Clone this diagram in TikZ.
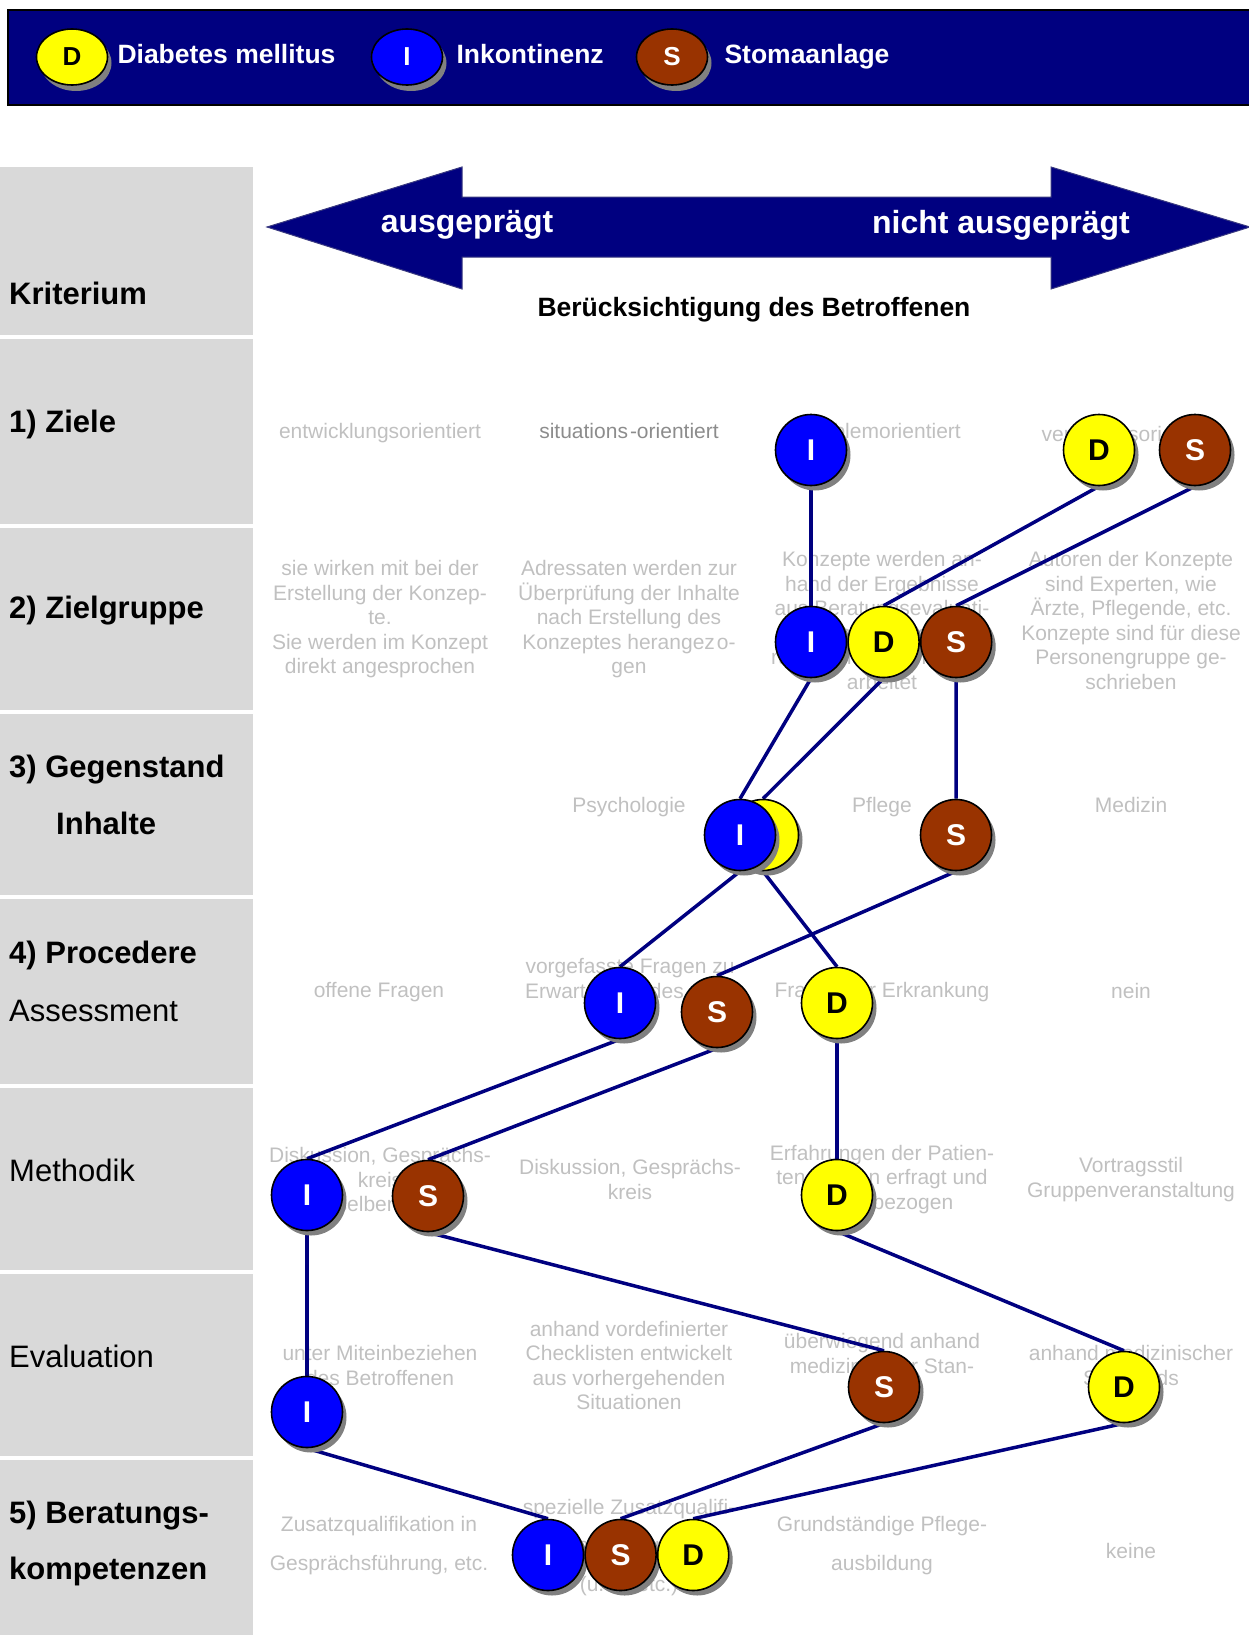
\documentclass[tikz,border=0pt]{standalone}
\usepackage{fontspec}
\setmainfont{Liberation Sans}
\usetikzlibrary{positioning, shapes.geometric, shadows}
\definecolor{navy}{RGB}{0,0,128}
\definecolor{diabyellow}{RGB}{255,255,0}
\definecolor{inkoblue}{RGB}{0,0,255}
\definecolor{stomabrown}{RGB}{153,51,0}
\definecolor{colgray}{RGB}{217,217,217}
\definecolor{optgray}{RGB}{192,192,192}
\definecolor{optdark}{RGB}{140,140,140}
\pgfdeclarelayer{back}
\pgfdeclarelayer{lines}
\pgfsetlayers{back,lines,main}
\tikzset{
  disc/.style={circle, draw=black, line width=1.6pt, minimum size=71pt, inner sep=0pt,
    font=\fontsize{30}{30}\selectfont\bfseries,
    drop shadow={shadow xshift=4pt, shadow yshift=-5pt, fill=black!50, opacity=1}},
  diab/.style={disc, fill=diabyellow, text=black},
  inko/.style={disc, fill=inkoblue, text=white},
  stoma/.style={disc, fill=stomabrown, text=white},
  legdisc/.style={ellipse, draw=black, line width=1.6pt, minimum width=71pt, minimum height=56pt,
    inner sep=0pt, font=\fontsize{26}{26}\selectfont\bfseries,
    drop shadow={shadow xshift=4pt, shadow yshift=-6pt, fill=black!50, opacity=1}},
  legtext/.style={text=white, inner sep=0pt, text height=19pt, text depth=6pt,
    font=\fontsize{26.5}{26.5}\selectfont\bfseries},
  opt/.style={text=optgray, align=center, inner sep=0pt, yshift=-2.5pt, font=\fontsize{21}{24.5}\selectfont},
  optwide/.style={opt, font=\fontsize{21}{38.5}\selectfont},
  krit/.style={anchor=west, inner sep=0pt, font=\fontsize{31}{31}\selectfont\bfseries},
  kritplain/.style={krit, font=\fontsize{31}{31}\selectfont},
  link/.style={navy, line width=3.5pt}
}

\begin{document}
\begin{tikzpicture}[x=1pt, y=-1pt]
		\useasboundingbox (0,0) rectangle (1248,1635);
		% Legend bar
		\draw[fill=navy, draw=black, line width=1.5pt] (8,10) rectangle (1260,105);
		\node[legdisc, fill=diabyellow, text=black] (legD) at (72,57) {D};
		\node[legtext, right=9pt of legD, yshift=-0.5pt] (legDtxt) {Diabetes mellitus};
		\node[legdisc, fill=inkoblue, text=white] (legI) at (407,57) {I};
		\node[legtext, right=13pt of legI, yshift=-0.5pt] (legItxt) {Inkontinenz};
		\node[legdisc, fill=stomabrown, text=white] (legS) at (672,57) {S};
		\node[legtext, right=16pt of legS, yshift=-0.5pt] (legStxt) {Stomaanlage};
		% Double arrow
		\draw[fill=navy, draw=navy!55!gray, line width=1pt]
			(267,227) -- (462,167) -- (462,197) -- (1051,197) -- (1051,167) -- (1250,227)
			-- (1051,289) -- (1051,257) -- (462,257) -- (462,289) -- cycle;
		\node[text=white, font=\fontsize{32}{32}\selectfont\bfseries] (pos) at (467,225) {ausgeprägt};
		\node[text=white, font=\fontsize{32}{32}\selectfont\bfseries] (neg) at (1001,225) {nicht ausgeprägt};
		\node[font=\fontsize{26.5}{26.5}\selectfont\bfseries] (axis) at (754,310) {Berücksichtigung des Betroffenen};
		\begin{pgfonlayer}{back}
			% Criteria column
			\foreach \t/\b in {167/335, 339/524, 528/710, 714/895, 899/1084, 1088/1270, 1274/1456, 1460/1640}
				\fill[colgray] (0,\t) rectangle (253,\b);
			\node[krit] (k0) at (9,293) {Kriterium};
			\node[krit] (k1) at (9,424) {1) Ziele};
			\node[krit] (k2) at (9,611) {2) Zielgruppe};
			\node[krit] (k3) at (9,770) {3) Gegenstand};
			\node[krit] (k3b) at (56,823) {Inhalte};
			\node[krit] (k4) at (9,955) {4) Procedere};
			\node[kritplain] (k4b) at (9,1011) {Assessment};
			\node[kritplain] (k5) at (9,1170) {Methodik};
			\node[kritplain] (k6) at (9,1356) {Evaluation};
			\node[krit] (k7) at (9,1516) {5) Beratungs-};
			\node[krit] (k7b) at (9,1571) {kompetenzen};
			% Options per criterion
			\node[opt] (t11) at (380,431) {entwicklungsorientiert};
			\node[opt, text=optdark] (t12) at (629,428) {situations\kern2pt-orientiert};
			\node[opt] (t13) at (882,431) {problemorientiert};
			\node[opt] (t14) at (1131,431) {verhaltensorientiert};
			\node[opt] (t21) at (380,617) {sie wirken mit bei der\\Erstellung der Konzep-\\te.\\Sie werden im Konzept\\direkt angesprochen};
			\node[opt] (t22) at (629,617) {Adressaten werden zur\\Überprüfung der Inhalte\\nach Erstellung des\\Konzeptes herangez\kern2pt o-\\gen};
			\node[opt] (t23) at (882,618) {Konzepte werden an-\\hand der Ergebnisse\\aus Beratungsevaluati-\\onen weiter\\rückgemeldet und über-\\arbeitet};
			\node[opt] (t24) at (1131,618) {Autoren der Konzepte\\sind Experten, wie\\Ärzte, Pflegende, etc.\\Konzepte sind für diese\\Personengruppe ge-\\schrieben};
			\node[opt] (t32) at (629,805) {Psychologie};
			\node[opt] (t33) at (882,805) {Pflege};
			\node[opt] (t34) at (1131,802) {Medizin};
			\node[opt] (t41) at (379,990) {offene Fragen};
			\node[opt] (t42) at (630,978) {vorgefasste Fragen zu\\Erwartungen des\hspace*{51pt}};
			\node[opt] (t43) at (882,990) {Fragen zur Erkrankung};
			\node[opt] (t44) at (1131,988) {nein};
			\node[opt] (t51) at (380,1177) {Diskussion, Gesprächs-\\kreis\\derselben\hspace*{55pt}};
			\node[opt] (t52) at (630,1177) {Diskussion, Gesprächs-\\kreis};
			\node[opt] (t53) at (882,1177) {Erfahrungen der Patien-\\ten werden erfragt und\\mit einbezogen};
			\node[opt] (t54) at (1131,1177) {Vortragsstil\\Gruppenveranstaltung};
			\node[opt] (t61) at (380,1363) {unter Miteinbeziehen\\des Betroffenen};
			\node[opt] (t62) at (629,1363) {anhand vordefinierter\\Checklisten entwickelt\\aus vorhergehenden\\Situationen};
			\node[opt] (t63) at (882,1363) {überwiegend anhand\\medizinischer Stan-\\dards};
			\node[opt] (t64) at (1131,1363) {anhand medizinischer\\Standards};
			\node[optwide] (t71) at (379,1543) {Zusatzqualifikation in\\Gesprächsführung, etc.};
			\node[optwide] (t72) at (629,1545) {spezielle Zusatzqualifi-\\kation in Gesprächs-\\(u. a. etc.)};
			\node[optwide] (t73) at (882,1543) {Grundständige Pflege-\\ausbildung};
			\node[opt] (t74) at (1131,1548) {keine};
		\end{pgfonlayer}
		% Placement of the three groups
		\node[inko] (I1) at (811,450) {I};
		\node[diab] (D1) at (1099,450) {D};
		\node[stoma] (S1) at (1195,450) {S};
		\node[inko] (I2) at (811,642) {I};
		\node[diab, right=0pt of I2] (D2) {D};
		\node[stoma, right=0pt of D2] (S2) {S};
		\node[diab] (D3) at (763,835) {D};
		\node[inko] (I3) at (740,835) {I};
		\node[stoma] (S3) at (956,835) {S};
		\node[inko] (I4) at (620,1003) {I};
		\node[stoma] (S4) at (717,1012) {S};
		\node[diab] (D4) at (837,1003) {D};
		\node[inko] (I5) at (307,1195) {I};
		\node[stoma] (S5) at (428,1196) {S};
		\node[diab] (D5) at (837,1195) {D};
		\node[inko] (I6) at (307,1412) {I};
		\node[stoma] (S6) at (884,1387) {S};
		\node[diab] (D6) at (1124,1387) {D};
		\node[inko] (I7) at (548,1555) {I};
		\node[stoma, right=0pt of I7] (S7) {S};
		\node[diab, right=0pt of S7] (D7) {D};
		% Connections, behind the discs
		\begin{pgfonlayer}{lines}
			\foreach \a/\b in {I1/I2, I2/I3, I3/I4, I4/I5, I5/I6, I6/I7,
				D1/D2, D2/D3, D3/D4, D4/D5, D5/D6, D6/D7,
				S1/S2, S2/S3, S3/S4, S4/S5, S5/S6, S6/S7}
				\draw[link] (\a.south) -- (\b.north);
		\end{pgfonlayer}
	\end{tikzpicture}
\end{document}
